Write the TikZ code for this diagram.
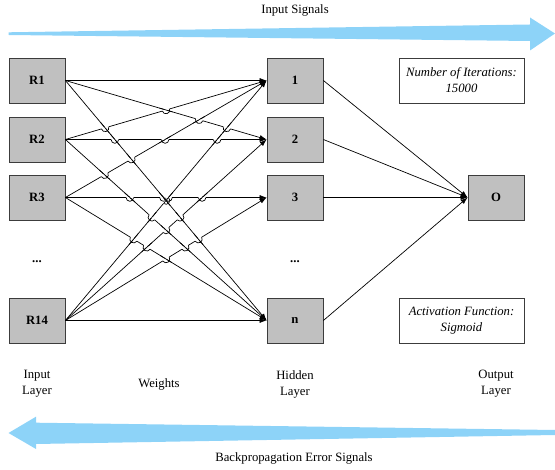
\documentclass[tikz,border=0pt]{standalone}
\usepackage{fontspec}
\setmainfont{Liberation Serif}
\newfontfamily\diagface{Liberation Serif}
\usetikzlibrary{arrows.meta}

% read an anchor of a node as two plain numbers (canvas pt)
\makeatletter
\newcommand\anchorxy[4]{\pgfpointanchor{#1}{#2}\edef#3{\strip@pt\pgf@x}\edef#4{\strip@pt\pgf@y}}
\makeatother

\newcommand\diagfont{\diagface\fontsize{12.7}{16}\selectfont}

\definecolor{unitgray}{RGB}{192,192,192}
\definecolor{unitedge}{RGB}{60,60,60}
\definecolor{signalblue}{RGB}{141,211,248}

\tikzset{
  unit/.style={draw=unitedge, line width=0.8pt, fill=unitgray,
    minimum width=56pt, minimum height=45pt, inner sep=0pt, font=\diagfont\bfseries},
  note/.style={draw=unitedge, line width=0.8pt, fill=white,
    minimum width=125pt, minimum height=45pt, inner sep=0pt, align=center, font=\diagfont\itshape},
  caption/.style={align=center, font=\diagfont, inner sep=0pt},
  ellipsis/.style={font=\diagfont\bfseries, inner sep=0pt},
  wire/.style={line width=0.7pt, black},
  link/.style={wire, -{Latex[length=7pt,width=5pt]}},
  wedge/.style={fill=signalblue, draw=none},
}

% input -> hidden connections
\def\linklist{R1/H1,R1/H2,R1/Hn,R2/H1,R2/H2,R2/Hn,R3/H1,R3/H3,R3/Hn,R14/H1,R14/H2,R14/H3,R14/Hn}
\def\jr{3.8}% line-jump radius

\begin{document}
\begin{tikzpicture}[x=1pt, y=-1pt]
\useasboundingbox (0,0) rectangle (555,470);

% signal direction wedges
\fill[wedge] (8.5,32.3) -- (530,24.5) -- (530,17.5) -- (555,33.5) -- (530,50.5) -- (530,41) -- (8.5,35) -- cycle;
\fill[wedge] (8.5,433) -- (36,416.7) -- (36,422.7) -- (555,430) -- (555,435) -- (36,444) -- (36,449) -- cycle;

\node[caption] (tin) at (295,10) {Input Signals};
\node[caption] (tback) at (294,458) {Backpropagation Error Signals};

% input layer
\node[unit] (R1) at (37,80.5) {R1};
\node[unit] (R2) at (37,139.5) {R2};
\node[unit] (R3) at (37,197.5) {R3};
\node[ellipsis] (rdots) at (37,262) {...};
\node[unit] (R14) at (37,320.5) {R14};

% hidden layer
\node[unit] (H1) at (295,80.5) {1};
\node[unit] (H2) at (295,139.5) {2};
\node[unit] (H3) at (295,197.5) {3};
\node[ellipsis] (hdots) at (295,262) {...};
\node[unit] (Hn) at (295,320.5) {n};

% output layer
\node[unit] (O) at (496,197.5) {O};

\node[note] (iter) at (461.5,80.5) {Number of Iterations:\\15000};
\node[note] (act) at (461.5,320.5) {Activation Function:\\Sigmoid};

% layer captions
\node[caption] (lin) at (37,384) {Input\\Layer};
\node[caption] (lw) at (159,384) {Weights};
\node[caption] (lh) at (295,384) {Hidden\\Layer};
\node[caption] (lo) at (496,384) {Output\\Layer};

% weights
\foreach \a/\b in \linklist {\draw[link] (\a.east) -- (\b.west);}

% line jumps: at every crossing the flatter line hops over the steeper one
\foreach \a/\b [count=\i] in \linklist {
  \foreach \c/\d [count=\j] in \linklist {
    \ifnum\j>\i\relax
      \anchorxy{\a}{east}\jxa\jya
      \anchorxy{\b}{west}\jxb\jyb
      \anchorxy{\c}{east}\jxc\jyc
      \anchorxy{\d}{west}\jxd\jyd
      \edef\jden{\fpeval{(\jxb-\jxa)*(\jyd-\jyc)-(\jyb-\jya)*(\jxd-\jxc)}}
      \ifnum\fpeval{abs(\jden)>1}=1\relax
        \edef\jt{\fpeval{((\jxc-\jxa)*(\jyd-\jyc)-(\jyc-\jya)*(\jxd-\jxc))/\jden}}
        \edef\js{\fpeval{((\jxc-\jxa)*(\jyb-\jya)-(\jyc-\jya)*(\jxb-\jxa))/\jden}}
        \ifnum\fpeval{(\jt>0.03)*(\jt<0.97)*(\js>0.03)*(\js<0.97)}=1\relax
          \edef\jpx{\fpeval{\jxa+\jt*(\jxb-\jxa)}}
          \edef\jpy{\fpeval{\jya+\jt*(\jyb-\jya)}}
          \ifnum\fpeval{abs((\jyb-\jya)/(\jxb-\jxa)) < abs((\jyd-\jyc)/(\jxd-\jxc)) - 0.001}=1\relax
            \edef\jux{\fpeval{\jxb-\jxa}}\edef\juy{\fpeval{\jyb-\jya}}
            \edef\jvx{\fpeval{\jxd-\jxc}}\edef\jvy{\fpeval{\jyd-\jyc}}
          \else
            \edef\jux{\fpeval{\jxd-\jxc}}\edef\juy{\fpeval{\jyd-\jyc}}
            \edef\jvx{\fpeval{\jxb-\jxa}}\edef\jvy{\fpeval{\jyb-\jya}}
          \fi
          \edef\jul{\fpeval{sqrt(\jux*\jux+\juy*\juy)}}
          \edef\jvl{\fpeval{sqrt(\jvx*\jvx+\jvy*\jvy)}}
          \edef\jang{\fpeval{atand(\juy,\jux)+180}}
          \edef\jsx{\fpeval{\jpx-\jr*\jux/\jul}}\edef\jsy{\fpeval{\jpy-\jr*\juy/\jul}}
          \edef\jex{\fpeval{\jpx+\jr*\jux/\jul}}\edef\jey{\fpeval{\jpy+\jr*\juy/\jul}}
          \edef\jox{\fpeval{\jpx-1.8*\jr*\jvx/\jvl}}\edef\joy{\fpeval{\jpy-1.8*\jr*\jvy/\jvl}}
          \edef\jqx{\fpeval{\jpx+1.8*\jr*\jvx/\jvl}}\edef\jqy{\fpeval{\jpy+1.8*\jr*\jvy/\jvl}}
          \draw[white, line width=1.8pt] (\jsx pt,\jsy pt) -- (\jex pt,\jey pt);
          \draw[wire] (\jox pt,\joy pt) -- (\jqx pt,\jqy pt);
          \draw[wire] (\jsx pt,\jsy pt) arc[start angle=\jang, delta angle=180, radius=\jr pt];
        \fi
      \fi
    \fi
  }
}

% hidden -> output
\foreach \h in {H1,H2,H3,Hn} {\draw[link] (\h.east) -- (O.west);}
\end{tikzpicture}
\end{document}
